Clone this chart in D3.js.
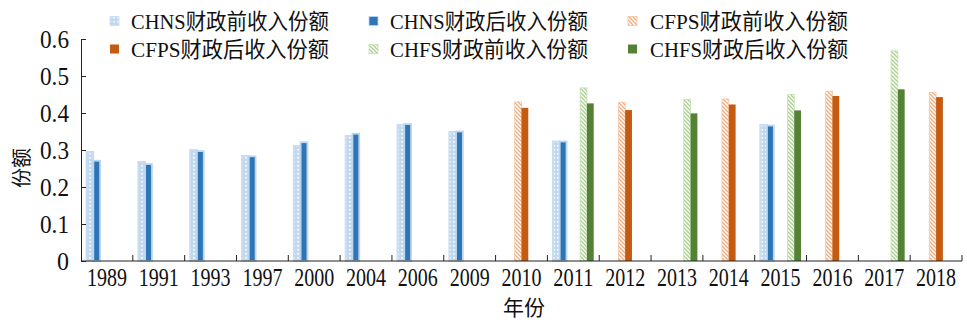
<!DOCTYPE html>
<html>
<head>
<meta charset="utf-8">
<script src="https://cdn.jsdelivr.net/npm/d3@7"></script>
<style>
  html, body { margin: 0; padding: 0; background: #fff; }
  svg { display: block; }
  text { font-family: "Liberation Serif", "Noto Sans CJK SC", serif; fill: #111; }
</style>
</head>
<body>
<svg id="chart" width="967" height="324"></svg>
<script>
// Survey years on the x axis
const years = ["1989", "1991", "1993", "1997", "2000", "2004", "2006", "2009", "2010",
               "2011", "2012", "2013", "2014", "2015", "2016", "2017", "2018"];

// Series names (legend order = bar order inside each year)
const seriesNames = ["CHNS财政前收入份额", "CHNS财政后收入份额",
                     "CFPS财政前收入份额", "CFPS财政后收入份额",
                     "CHFS财政前收入份额", "CHFS财政后收入份额"];

// Income shares per year (null = survey not available that year)
const chnsPre  = [0.295, 0.268, 0.300, 0.284, 0.311, 0.338, 0.368, 0.349, null, 0.323, null, null, null, 0.368, null, null, null];
const chnsPost = [0.271, 0.262, 0.297, 0.283, 0.321, 0.344, 0.370, 0.350, null, 0.323, null, null, null, 0.366, null, null, null];
const cfpsPre  = [null, null, null, null, null, null, null, null, 0.430, null, 0.429, null, 0.438, null, 0.459, null, 0.456];
const cfpsPost = [null, null, null, null, null, null, null, null, 0.414, null, 0.408, null, 0.423, null, 0.446, null, 0.443];
const chfsPre  = [null, null, null, null, null, null, null, null, null, 0.468, null, 0.437, null, 0.450, null, 0.568, null];
const chfsPost = [null, null, null, null, null, null, null, null, null, 0.426, null, 0.399, null, 0.407, null, 0.464, null];

const yTicks = [0, 0.1, 0.2, 0.3, 0.4, 0.5, 0.6];
const yTickLabels = ["0", "0.1", "0.2", "0.3", "0.4", "0.5", "0.6"];

const seriesValues = [chnsPre, chnsPost, cfpsPre, cfpsPost, chfsPre, chfsPost];

const svg = d3.select("#chart");
const plotLeft = 81, plotRight = 962, plotTop = 39, plotBottom = 261;

// ---- patterns for the "before fiscal" series ----
const defs = svg.append("defs");

const dots = defs.append("pattern").attr("id", "pat-chns")
  .attr("patternUnits", "userSpaceOnUse").attr("width", 4).attr("height", 4);
dots.append("rect").attr("width", 4).attr("height", 4).attr("fill", "#c2d8ef");
dots.append("rect").attr("x", 1).attr("y", 1).attr("width", 2).attr("height", 1.6).attr("fill", "#f4f8fd");

function hatch(id, color) {
  const p = defs.append("pattern").attr("id", id)
    .attr("patternUnits", "userSpaceOnUse").attr("width", 4).attr("height", 4);
  p.append("rect").attr("width", 4).attr("height", 4).attr("fill", "#fff");
  p.append("path").attr("d", "M-1,-1 L5,5 M-1,3 L1,5 M3,-1 L5,1")
    .attr("stroke", color).attr("stroke-width", 1.3);
}
hatch("pat-cfps", "#f2ab7b");
hatch("pat-chfs", "#a9d18e");

const styles = [
  { fill: "url(#pat-chns)", stroke: "#c9ddf2", sw: 1.8 },
  { fill: "#2e75b6", stroke: "#bcd6ef", sw: 1.8 },
  { fill: "url(#pat-cfps)", stroke: "#f6c4a2", sw: 0.8 },
  { fill: "#c55a11", stroke: "none", sw: 0 },
  { fill: "url(#pat-chfs)", stroke: "#c3e0b0", sw: 0.8 },
  { fill: "#548235", stroke: "none", sw: 0 }
];

// ---- scales ----
const x = d3.scaleBand().domain(years).range([plotLeft, plotRight]).padding(0);
const x1 = d3.scaleBand().domain(seriesNames).range([5.5, x.bandwidth() - 5.5]).padding(0);
const y = d3.scaleLinear().domain([0, 0.6]).range([plotBottom, plotTop]);

// ---- bars ----
const barData = [];
seriesValues.forEach((vals, si) => {
  vals.forEach((v, i) => {
    if (v != null) barData.push({ year: years[i], s: si, v });
  });
});

svg.append("g").selectAll("rect").data(barData).join("rect")
  .attr("x", d => x(d.year) + x1(seriesNames[d.s]))
  .attr("y", d => y(d.v))
  .attr("width", x1.bandwidth())
  .attr("height", d => y(0) - y(d.v))
  .attr("fill", d => styles[d.s].fill)
  .attr("stroke", d => styles[d.s].stroke)
  .attr("stroke-width", d => styles[d.s].sw);

// ---- y axis (ticks pointing inward) ----
const yAxis = d3.axisLeft(y).tickValues(yTicks)
  .tickFormat((d, i) => yTickLabels[i]).tickSizeInner(-5).tickSizeOuter(0).tickPadding(12);
const gy = svg.append("g").attr("transform", `translate(${plotLeft},0)`).call(yAxis);
gy.select(".domain").attr("stroke", "#222");
gy.selectAll(".tick line").attr("stroke", "#222");
gy.selectAll(".tick text").attr("font-size", 25).attr("fill", "#111")
  .attr("font-family", "Liberation Serif, serif")
  .attr("textLength", (d, i) => yTickLabels[i].length === 1 ? 12 : 29)
  .attr("lengthAdjust", "spacingAndGlyphs");

// ---- x axis: category labels, ticks at category boundaries pointing up ----
const xAxis = d3.axisBottom(x).tickSize(0).tickPadding(7);
const gx = svg.append("g").attr("transform", `translate(0,${plotBottom})`).call(xAxis);
gx.select(".domain").attr("stroke", "#222").attr("d", `M${plotLeft},0H${plotRight}`);
gx.selectAll(".tick text").attr("font-size", 26).attr("fill", "#111")
  .attr("font-family", "Liberation Serif, serif")
  .attr("textLength", 40).attr("lengthAdjust", "spacingAndGlyphs");

const boundaries = years.slice(1).map(yr => x(yr)).concat([plotRight]);
gx.append("g").selectAll("line").data(boundaries).join("line")
  .attr("x1", d => d).attr("x2", d => d)
  .attr("y1", 0).attr("y2", -6)
  .attr("stroke", "#222");

// ---- axis titles ----
svg.append("text")
  .attr("transform", `translate(22,${(plotTop + plotBottom) / 2 + 18}) rotate(-90)`)
  .attr("text-anchor", "middle").attr("dominant-baseline", "central")
  .attr("font-size", 20).attr("font-family", "Noto Sans CJK SC, sans-serif")
  .text("份额");

svg.append("text")
  .attr("x", 524).attr("y", 308)
  .attr("text-anchor", "middle").attr("dominant-baseline", "central")
  .attr("font-size", 21).attr("font-family", "Noto Sans CJK SC, sans-serif")
  .text("年份");

// ---- legend: 3 columns x 2 rows ----
const legendPos = [
  { mx: 110, tx: 131, cy: 21 }, { mx: 369, tx: 390, cy: 21 }, { mx: 628, tx: 650, cy: 21 },
  { mx: 110, tx: 131, cy: 49 }, { mx: 369, tx: 390, cy: 49 }, { mx: 628, tx: 650, cy: 49 }
];
const legendOrder = [0, 1, 2, 3, 4, 5];
const lg = svg.append("g").selectAll("g").data(legendOrder).join("g");
lg.append("rect")
  .attr("x", (d, i) => legendPos[i].mx)
  .attr("y", (d, i) => legendPos[i].cy - 4.5)
  .attr("width", 9).attr("height", 9)
  .attr("fill", d => styles[d].fill)
  .attr("stroke", d => styles[d].stroke === "none" ? "none" : styles[d].stroke)
  .attr("stroke-width", 0.8);
lg.append("text")
  .attr("x", (d, i) => legendPos[i].tx)
  .attr("y", (d, i) => legendPos[i].cy)
  .attr("dominant-baseline", "central")
  .attr("font-size", 22)
  .attr("textLength", 198).attr("lengthAdjust", "spacingAndGlyphs")
  .text(d => seriesNames[d]);
</script>
</body>
</html>
